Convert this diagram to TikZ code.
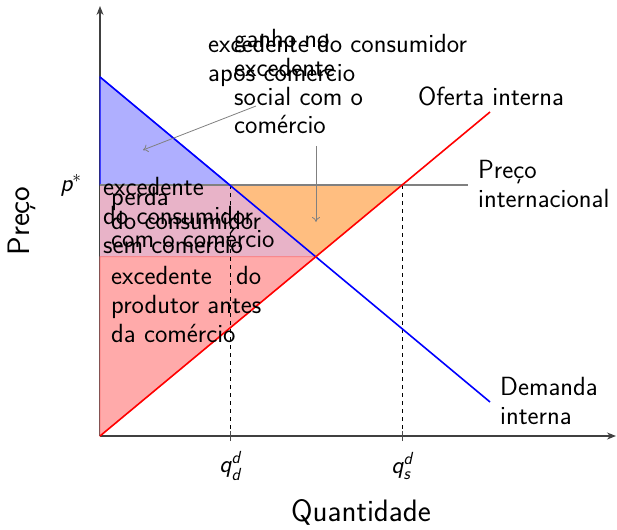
\documentclass[tikz,border=0pt]{standalone}
\usepackage{amsmath}
\usetikzlibrary{arrows.meta}
\newcommand{\sv}[1]{\text{\sffamily\slshape #1}}
\definecolor{cblue}{RGB}{175,175,255}
\definecolor{cred}{RGB}{255,170,170}
\definecolor{cpink}{RGB}{232,179,200}
\definecolor{corange}{RGB}{255,190,128}
\tikzset{
  lbl/.style={font=\sffamily\fontsize{26.3}{28.8}\selectfont, inner sep=0pt, anchor=north west, align=left},
  axlbl/.style={font=\sffamily\fontsize{31}{36}\selectfont, inner sep=0pt},
  axisline/.style={draw=black!75, line width=1.1pt, -{Stealth[length=9pt,width=7pt]}},
  ptr/.style={draw=black!50, line width=0.8pt, -{To[length=5pt,width=8pt]}},
  dline/.style={dash pattern=on 4pt off 4pt, line width=0.7pt},
}
\begin{document}
\begin{tikzpicture}[x=1pt,y=-1pt]
\useasboundingbox (0,0) rectangle (617,529);
% key points
\coordinate (O) at (100,436);
\coordinate (Xend) at (616,436);
\coordinate (Yend) at (100,6);
\coordinate (D1) at (100,77);
\coordinate (D2) at (490,402);
\coordinate (S2) at (490,112);
\coordinate (P0) at (100,185);
\coordinate (Pend) at (468,185);
\coordinate (Qd) at (230,185);
\coordinate (Qs) at (402,185);
\coordinate (E) at (315.7,256.8);
\coordinate (E0) at (100,256.8);
\coordinate (Qdb) at (230,436);
\coordinate (Qsb) at (402,436);
% axes
\draw[axisline] (O) -- (Xend);
\draw[axisline] (O) -- (Yend);
% regions
\fill[cpink] (P0) -- (Qd) -- (E) -- (E0) -- cycle;
\filldraw[fill=cred, draw=red!55, line width=0.8pt] (E0) -- (E) -- (O) -- cycle;
\fill[corange] (Qd) -- (Qs) -- (E) -- cycle;
\filldraw[fill=cblue, draw=blue, line width=1pt] (D1) -- (Qd) -- (P0) -- cycle;
% dashed guides and ticks
\draw[dline] (Qd) -- (Qdb);
\draw[dline] (Qs) -- (Qsb);
\draw[black!70, line width=0.7pt] ([yshift=-5pt]Qdb) -- ([yshift=5pt]Qdb);
\draw[black!70, line width=0.7pt] ([yshift=-5pt]Qsb) -- ([yshift=5pt]Qsb);
% price line
\draw[black!50, line width=2pt] (P0) -- (Pend);
% curves
\draw[blue, line width=1.6pt] (D1) -- (D2);
\draw[red, line width=1.6pt] (O) -- (S2);
% pointers
\coordinate (a1s) at (256,106);
\coordinate (a1e) at (143,150);
\coordinate (a2s) at (316,146);
\coordinate (a2e) at (316,222);
\draw[ptr] (a1s) -- (a1e);
\draw[ptr] (a2s) -- (a2e);
% labels
\node[lbl] (cs) at (208,34) {excedente do consumidor\\apos comercio};
\node[lbl] (gs) at (234,29) {ganho no\\excedente\\social com o\\comércio};
\node[lbl] (csa) at (103,177) {excedente\\do consumidor\\sem comercio};
\node[lbl] (pd) at (111,187) {perda\\[-5pt]do consumidor\\[-11pt]com o comércio};
\node[lbl] (ps) at (111,266) {\hbox to 150pt{excedente\hfill do}\\produtor antes\\da comércio};
\node[lbl] (of) at (418,87) {Oferta interna};
\node[lbl] (pi) at (478,160) {Preço\\internacional};
\node[lbl] (dm) at (500,377) {Demanda\\interna};
\node[font=\fontsize{25}{29}\selectfont, inner sep=0pt] (ps1) at (71,185) {$\sv{p}^{*}$};
\node[font=\fontsize{25}{29}\selectfont, inner sep=0pt] (qd) at (230,466) {$\sv{q}^{\sv{d}}_{\sv{d}}$};
\node[font=\fontsize{25}{29}\selectfont, inner sep=0pt] (qs) at (402,466) {$\sv{q}^{\sv{d}}_{\sv{s}}$};
\node[axlbl] (xl) at (361,512) {Quantidade};
\node[axlbl, rotate=90] (yl) at (22,221) {Preço};
\end{tikzpicture}
\end{document}
